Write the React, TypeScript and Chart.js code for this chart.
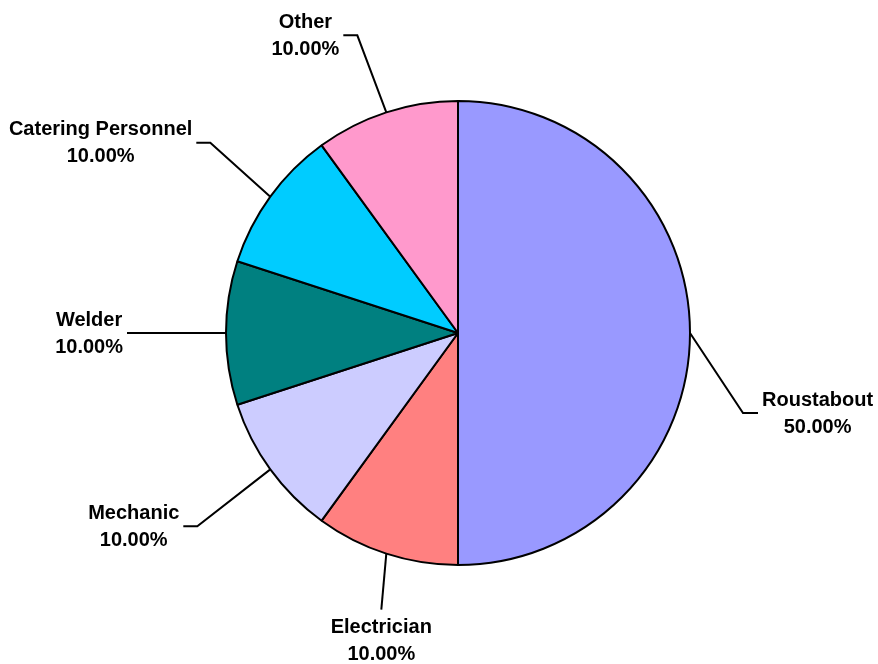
import React, { useEffect, useRef } from "react";
import { Chart, registerables } from "chart.js";

Chart.register(...registerables);

const labels = ["Roustabout", "Electrician", "Mechanic", "Welder", "Catering Personnel", "Other"];
const values = [50, 10, 10, 10, 10, 10];
const percentLabels = ["50.00%", "10.00%", "10.00%", "10.00%", "10.00%", "10.00%"];
const colors = ["#9999FF", "#FF8080", "#CCCCFF", "#008080", "#00CCFF", "#FF99CC"];

// leader layout: elbow offset from slice edge (dx, dy), then horizontal run (h)
const leaderLayout = [
  { dx: 53, dy: 80, h: 15, pos: "right" },
  { dx: -5, dy: 56, h: 0, pos: "below" },
  { dx: -73, dy: 57, h: -14, pos: "left" },
  { dx: -99, dy: 0, h: 0, pos: "left" },
  { dx: -60, dy: -54, h: -14, pos: "left" },
  { dx: -29, dy: -77, h: -14, pos: "left" },
];

const leaderPlugin = {
  id: "leaders",
  afterDraw(chart: any) {
    const ctx = chart.ctx;
    const meta = chart.getDatasetMeta(0);
    ctx.save();
    ctx.font = "bold 20px 'Liberation Sans', Arial, sans-serif";
    ctx.fillStyle = "#000";
    ctx.strokeStyle = "#000";
    ctx.lineWidth = 2;
    meta.data.forEach((arc: any, i: number) => {
      const p = arc.getProps(["x", "y", "startAngle", "endAngle", "outerRadius"], true);
      const mid = (p.startAngle + p.endAngle) / 2;
      const ex = p.x + Math.cos(mid) * p.outerRadius;
      const ey = p.y + Math.sin(mid) * p.outerRadius;
      const L = leaderLayout[i];
      const bx = ex + L.dx;
      const by = ey + L.dy;
      const cx = bx + L.h;
      ctx.beginPath();
      ctx.moveTo(ex, ey);
      ctx.lineTo(bx, by);
      if (L.h !== 0) ctx.lineTo(cx, by);
      ctx.stroke();
      const l1 = labels[i];
      const l2 = percentLabels[i];
      const w = Math.max(ctx.measureText(l1).width, ctx.measureText(l2).width);
      let tx: number, ty: number;
      if (L.pos === "right") {
        tx = cx + 4 + w / 2;
        ty = by - 13;
      } else if (L.pos === "left") {
        tx = cx - 4 - w / 2;
        ty = by - 13;
      } else {
        tx = bx;
        ty = by + 18;
      }
      ctx.textAlign = "center";
      ctx.textBaseline = "middle";
      ctx.fillText(l1, tx, ty);
      ctx.fillText(l2, tx, ty + 27);
    });
    ctx.restore();
  },
};

export default function App() {
  const ref = useRef<HTMLCanvasElement>(null);
  useEffect(() => {
    const chart = new Chart(ref.current!, {
      type: "pie",
      data: {
        labels,
        datasets: [
          {
            data: values,
            backgroundColor: colors,
            borderColor: "#000",
            borderWidth: 2,
            hoverOffset: 0,
          },
        ],
      },
      options: {
        animation: false,
        responsive: false,
        events: [],
        layout: { padding: { left: 225, right: 187, top: 100, bottom: 98 } },
        plugins: { legend: { display: false }, tooltip: { enabled: false } },
      },
      plugins: [leaderPlugin],
    });
    return () => chart.destroy();
  }, []);
  return (
    <div style={{ position: "absolute", left: 0, top: 0, width: 878, height: 664, background: "#fff" }}>
      <canvas ref={ref} width={878} height={664} />
    </div>
  );
}
